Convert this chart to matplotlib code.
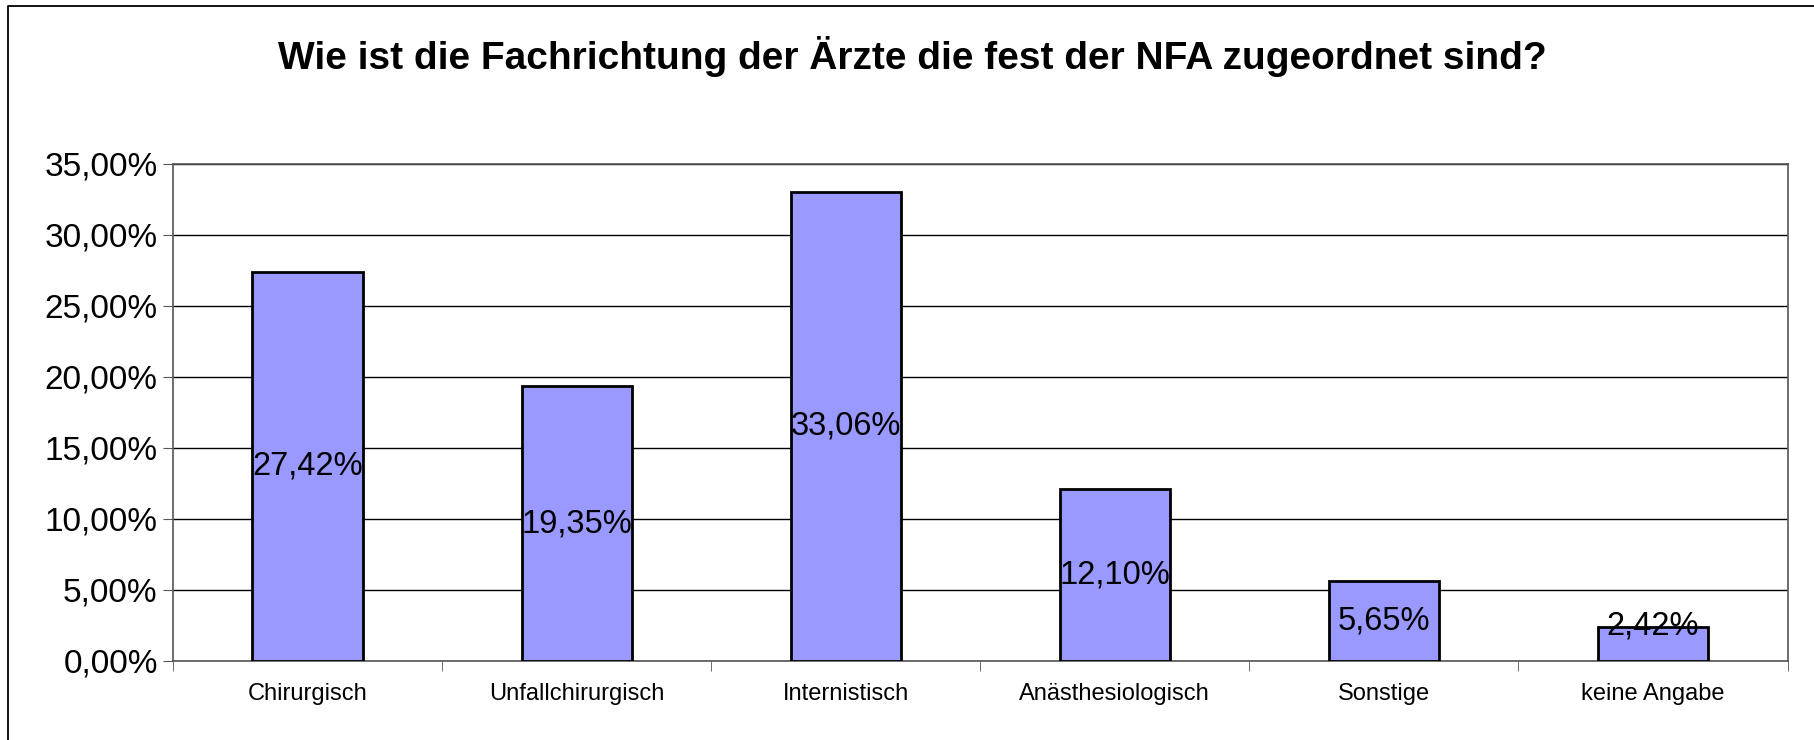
import matplotlib.pyplot as plt
from matplotlib.lines import Line2D
from matplotlib.ticker import FuncFormatter

plt.rcParams['font.family'] = ['Liberation Sans', 'DejaVu Sans']

title = "Wie ist die Fachrichtung der Ärzte die fest der NFA zugeordnet sind?"
categories = ["Chirurgisch", "Unfallchirurgisch", "Internistisch",
              "Anästhesiologisch", "Sonstige", "keine Angabe"]
values = [27.42, 19.35, 33.06, 12.10, 5.65, 2.42]
yticks = [0, 5, 10, 15, 20, 25, 30, 35]


def pct(v, pos=None):
    return f"{v:.2f}%".replace(".", ",")


fig = plt.figure(figsize=(18.14, 7.40), dpi=100)
ax = fig.add_axes([0.0954, 0.1068, 0.890, 0.6716])

# outer chart frame (only left and top edges fall inside the image)
fig.lines.append(Line2D([0.0044, 0.0044, 1.0], [0.0, 0.9915, 0.9915],
                        transform=fig.transFigure, color='black', linewidth=1.3))

x = list(range(len(categories)))
ax.bar(x, values, width=0.41, color='#9999FF', edgecolor='black', linewidth=2, zorder=3)

for xi, v in zip(x, values):
    ax.text(xi, max(v / 2, 2.45), pct(v), ha='center', va='center', fontsize=23.5, zorder=4)

ax.set_xlim(-0.5, len(categories) - 0.5)
ax.set_ylim(0, 35)
ax.set_yticks(yticks)
ax.yaxis.set_major_formatter(FuncFormatter(pct))
ax.yaxis.grid(True, color='black', linewidth=1)
ax.set_axisbelow(True)

ax.set_xticks(x)
ax.set_xticklabels(categories, fontsize=17)
ax.set_xticks([i + 0.5 for i in range(-1, len(categories))], minor=True)
ax.tick_params(axis='x', which='major', length=0, pad=16)
ax.tick_params(axis='x', which='minor', length=7, direction='out', color='#555555')
ax.tick_params(axis='y', labelsize=24, length=7, direction='out', color='#555555', pad=4)

for side in ['top', 'right', 'bottom', 'left']:
    ax.spines[side].set_color('#555555')
    ax.spines[side].set_linewidth(1.2)

fig.text(0.503, 0.923, title, ha='center', va='center', fontsize=28, fontweight='bold')

fig.savefig('out.png', dpi=100)
